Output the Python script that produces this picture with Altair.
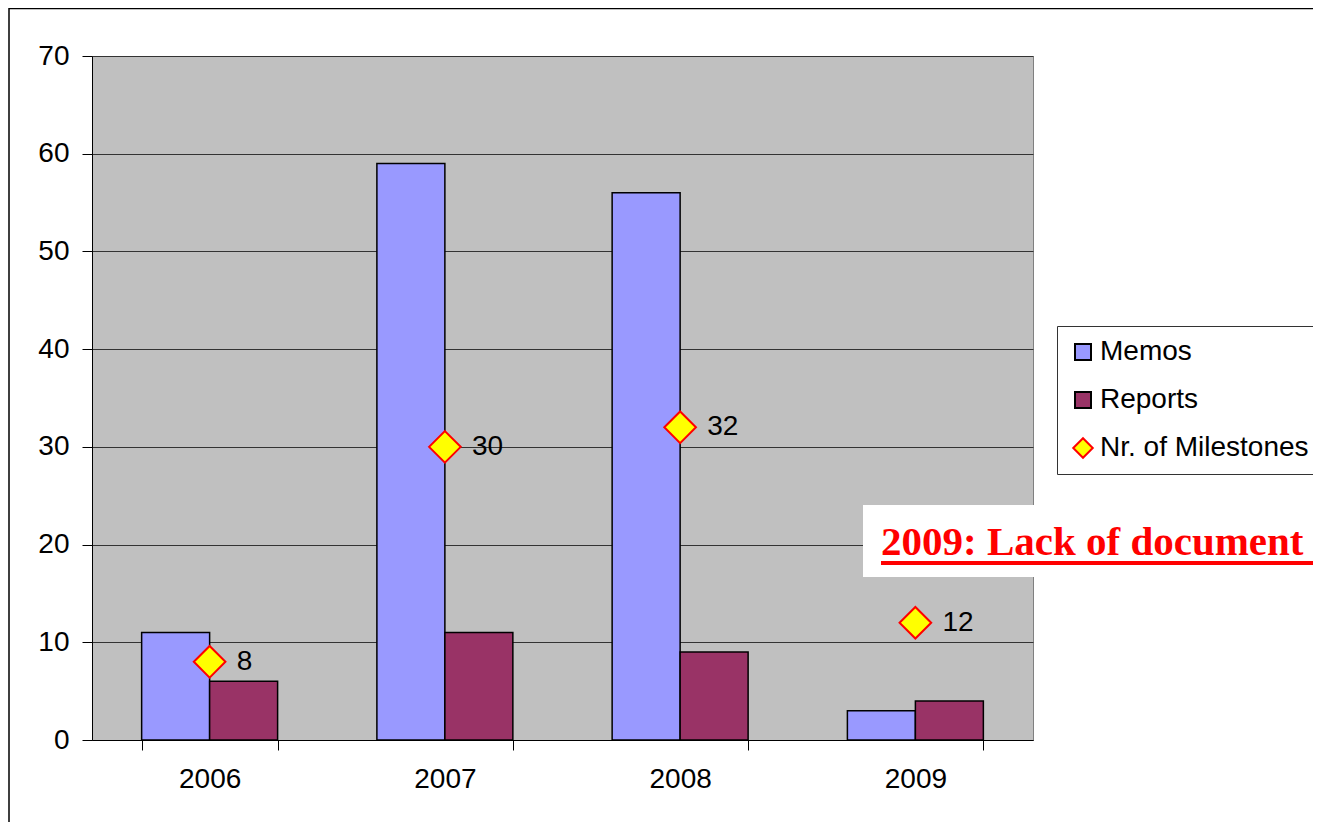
import altair as alt
import pandas as pd

years = ["2006", "2007", "2008", "2009"]
memos = [11, 59, 56, 3]
reports = [6, 11, 9, 4]
milestones = [8, 30, 32, 12]
series_names = ["Memos", "Reports", "Nr. of Milestones"]
series_colors = ["#9999FF", "#993366", "#FFFF00"]
note_text = ["2009: Lack of document"]

bars_df = pd.DataFrame(
    [{"year": y, "series": "Memos", "value": v} for y, v in zip(years, memos)]
    + [{"year": y, "series": "Reports", "value": v} for y, v in zip(years, reports)]
)
pts_df = pd.DataFrame({"year": years, "value": milestones, "series": "Nr. of Milestones"})
note_df = pd.DataFrame({"t": note_text})

W, H = 941, 684
FONT = "Liberation Sans"
FS = 28

xscale = alt.Scale(domain=years, paddingInner=0.422, paddingOuter=0.211)
yscale = alt.Scale(domain=[0, 70], nice=False)
cscale = alt.Scale(domain=series_names, range=series_colors)

IS_MS = "datum.value === 'Nr. of Milestones'"
legend = alt.Legend(
    title=None, orient="none", legendX=965, legendY=270,
    labelFont=FONT, labelFontSize=FS, labelColor="black", labelLimit=400,
    symbolType={"expr": IS_MS + " ? 'diamond' : 'square'"},
    symbolSize={"expr": IS_MS + " ? 380 : 256"},
    symbolStrokeColor={"expr": IS_MS + " ? '#FF0000' : '#000000'"},
    symbolStrokeWidth=2, symbolOpacity=1,
    strokeColor="#333333", fillColor="white", padding=12, rowPadding=20,
    labelOffset=3,
)

x_axis = alt.Axis(title=None, labelFont=FONT, labelFontSize=FS, labelColor="black",
                  labelAngle=0, tickBand="extent", tickSize=10, tickColor="black",
                  domainColor="black", domainWidth=1, labelPadding=15, grid=False)
y_axis = alt.Axis(title=None, labelFont=FONT, labelFontSize=FS, labelColor="black",
                  values=[0, 10, 20, 30, 40, 50, 60, 70], tickSize=10, tickColor="black",
                  domainColor="black", domainWidth=1, labelPadding=13,
                  grid=True, gridColor="#333333", gridWidth=1)

border = alt.Chart(note_df).mark_rect(fill=None, stroke="black", strokeWidth=1.5).encode(
    x=alt.value(-83), x2=alt.value(W + 400), y=alt.value(-47.5), y2=alt.value(H + 300)
)

bars = alt.Chart(bars_df).mark_bar(stroke="black", strokeWidth=1.5).encode(
    x=alt.X("year:N", scale=xscale, axis=x_axis, sort=years),
    xOffset=alt.XOffset("series:N", scale=alt.Scale(domain=["Memos", "Reports"], paddingInner=0, paddingOuter=0)),
    y=alt.Y("value:Q", scale=yscale, axis=y_axis),
    color=alt.Color("series:N", scale=cscale, legend=legend),
)

points = alt.Chart(pts_df).mark_point(shape="diamond", filled=True, size=1000, stroke="#FF0000",
                                      strokeWidth=2, opacity=1).encode(
    x=alt.X("year:N", scale=xscale, sort=years),
    y=alt.Y("value:Q", scale=yscale),
    color=alt.Color("series:N", scale=cscale, legend=legend),
)

labels = alt.Chart(pts_df).mark_text(align="left", baseline="middle", dx=27, font=FONT,
                                     fontSize=FS, color="black").encode(
    x=alt.X("year:N", scale=xscale, sort=years),
    y=alt.Y("value:Q", scale=yscale),
    text=alt.Text("value:Q"),
)

note_box = alt.Chart(note_df).mark_rect(fill="white").encode(
    x=alt.value(771), x2=alt.value(W + 400), y=alt.value(449), y2=alt.value(521)
)
note_text_mark = alt.Chart(note_df).mark_text(
    align="left", baseline="alphabetic", font="Liberation Serif", fontWeight="bold",
    fontSize=41, color="#FF0000"
).encode(x=alt.value(789), y=alt.value(499), text="t:N")
note_line = alt.Chart(note_df).mark_rule(color="#FF0000", strokeWidth=4).encode(
    x=alt.value(789), x2=alt.value(W + 400), y=alt.value(507)
)

chart = alt.layer(bars, points, labels, note_box, note_text_mark, note_line, border).properties(
    width=W, height=H,
    autosize=alt.AutoSizeParams(type="none"),
    padding={"left": 84, "top": 48, "right": 280, "bottom": 82},
    background="white",
).configure_view(fill="#C0C0C0", stroke="#808080", strokeWidth=1)

chart.save("out.html", embed_options={"renderer": "svg", "actions": False})
